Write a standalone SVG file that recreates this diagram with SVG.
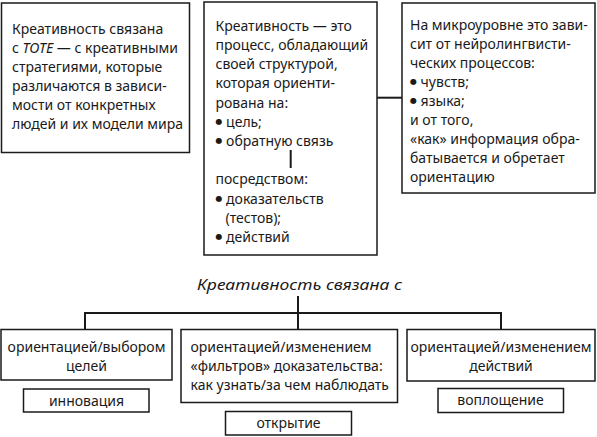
<svg xmlns="http://www.w3.org/2000/svg" width="597" height="437" viewBox="0 0 597 437">
<style>
.box{fill:#fff;stroke:#1a1a1a;stroke-width:1.5}
.t{font-family:"Noto Sans","Open Sans",sans-serif;font-size:14px;fill:#1a1a1a}
.c{text-anchor:middle}
.b{font-family:"DejaVu Sans",sans-serif;font-size:8px;baseline-shift:3px}
.ln{stroke:#1a1a1a;stroke-width:2;fill:none}
</style>
<rect width="597" height="437" fill="#fff"/>
<g id="box1">
<rect class="box" x="1.5" y="3" width="188" height="149.5"/>
<text class="t" x="12" y="34">Креативность связана</text>
<text class="t" x="12" y="53">с <tspan font-style="italic">TOTE</tspan> — с креативными</text>
<text class="t" x="12" y="72">стратегиями, которые</text>
<text class="t" x="12" y="91">различаются в зависи-</text>
<text class="t" x="12" y="110">мости от конкретных</text>
<text class="t" x="12" y="129">людей и их модели мира</text>
</g>
<g id="box2">
<rect class="box" x="204" y="2" width="173" height="253"/>
<text class="t" x="215.5" y="30.7">Креативность — это</text>
<text class="t" x="215.5" y="49.9">процесс, обладающий</text>
<text class="t" x="215.5" y="69.1">своей структурой,</text>
<text class="t" x="215.5" y="88.3">которая ориенти-</text>
<text class="t" x="215.5" y="107.5">рована на:</text>
<text class="t" x="215.5" y="126.7"><tspan class="b">●</tspan> цель;</text>
<text class="t" x="215.5" y="145.9"><tspan class="b">●</tspan> обратную связь</text>
<text class="t" x="215.5" y="184.3">посредством:</text>
<text class="t" x="215.5" y="203.5"><tspan class="b">●</tspan> доказательств</text>
<text class="t" x="225.5" y="222.7">(тестов);</text>
<text class="t" x="215.5" y="241.9"><tspan class="b">●</tspan> действий</text>
</g>
<g id="box3">
<rect class="box" x="402" y="3" width="193" height="190"/>
<text class="t" x="410" y="30">На микроуровне это зави-</text>
<text class="t" x="410" y="49">сит от нейролингвисти-</text>
<text class="t" x="410" y="68">ческих процессов:</text>
<text class="t" x="410" y="87"><tspan class="b">●</tspan> чувств;</text>
<text class="t" x="410" y="106"><tspan class="b">●</tspan> языка;</text>
<text class="t" x="410" y="125">и от того,</text>
<text class="t" x="410" y="144">«как» информация обра-</text>
<text class="t" x="410" y="163">батывается и обретает</text>
<text class="t" x="410" y="182">ориентацию</text>
</g>
<g id="title">
<text class="t" x="197" y="290" font-size="19" font-style="italic" textLength="205" lengthAdjust="spacingAndGlyphs">Креативность связана с</text>
</g>
<g id="boxA">
<rect class="box" x="1" y="329.5" width="171" height="50.5"/>
<text class="t c" x="86.5" y="352">ориентацией/выбором</text>
<text class="t c" x="86.5" y="371">целей</text>
</g>
<g id="boxB">
<rect class="box" x="181" y="329.5" width="216.5" height="73"/>
<text class="t" x="190.5" y="352">ориентацией/изменением</text>
<text class="t" x="190.5" y="371">«фильтров» доказательства:</text>
<text class="t" x="190.5" y="390">как узнать/за чем наблюдать</text>
</g>
<g id="boxC">
<rect class="box" x="407" y="329.5" width="188" height="51.5"/>
<text class="t c" x="501" y="352">ориентацией/изменением</text>
<text class="t c" x="501" y="371">действий</text>
</g>
<g id="innov">
<rect class="box" x="23.5" y="389" width="125.5" height="23"/>
<text class="t c" x="86.5" y="405.5">инновация</text>
</g>
<g id="otkr">
<rect class="box" x="225.5" y="411.5" width="126" height="23.5"/>
<text class="t c" x="288.5" y="428">открытие</text>
</g>
<g id="vopl">
<rect class="box" x="438" y="388.5" width="125.5" height="24"/>
<text class="t c" x="500.5" y="405">воплощение</text>
</g>
<g id="connectors">
<path class="ln" d="M377,97.7H402"/>
<path class="ln" d="M290.7,150V168"/>
<path class="ln" d="M298,296V313M85,313H501M85,312V329.5M298,312V329.5M501,312V329.5"/>
</g>
</svg>
